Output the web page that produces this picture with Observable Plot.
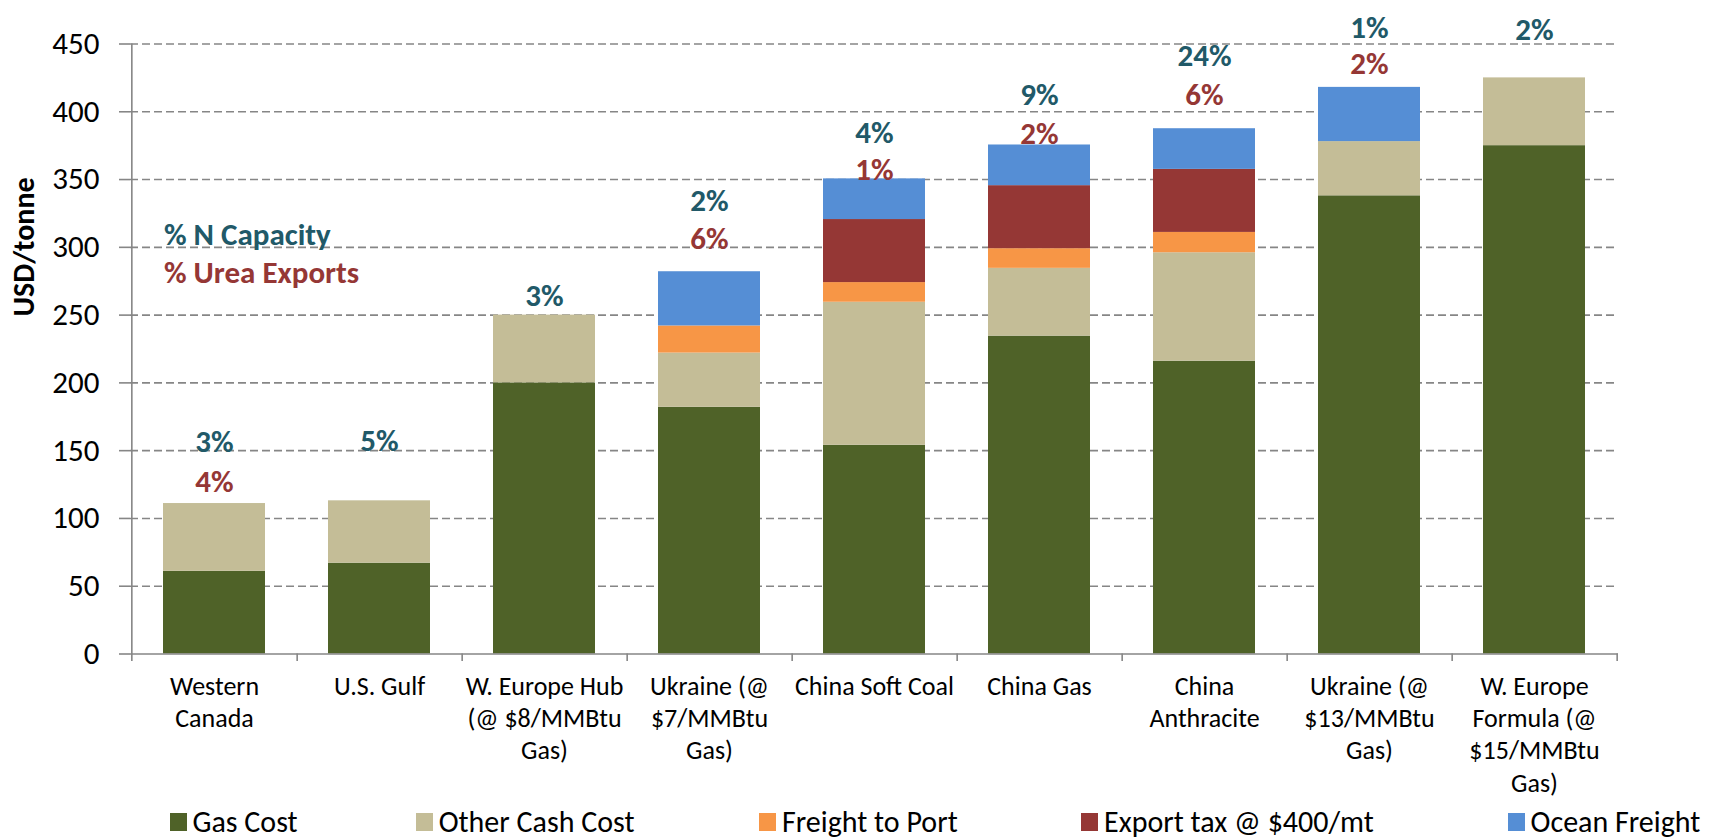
<!DOCTYPE html>
<html>
<head>
<meta charset="utf-8">
<script src="https://cdn.jsdelivr.net/npm/d3@7"></script>
<script src="https://cdn.jsdelivr.net/npm/@observablehq/plot@0.6"></script>
<style>
  html, body { margin: 0; padding: 0; background: #fff; }
  body { width: 1715px; height: 837px; overflow: hidden; font-family: Carlito, Calibri, Lato, sans-serif; }
  #legend { position: relative; height: 37px; width: 1715px; }
  .item { position: absolute; top: 6px; height: 31px; line-height: 31px; display: flex; align-items: center; font-size: 30px; color: #000; white-space: nowrap; }
  .sw { width: 17px; height: 18px; margin-right: 6px; flex: none; }
</style>
</head>
<body>
<div id="chart"></div>
<div id="legend"></div>
<script>
// ---- data ----
const categories = [
  "Western Canada", "U.S. Gulf", "W. Europe Hub (@ $8/MMBtu Gas)", "Ukraine (@ $7/MMBtu Gas)",
  "China Soft Coal", "China Gas", "China Anthracite", "Ukraine (@ $13/MMBtu Gas)",
  "W. Europe Formula (@ $15/MMBtu Gas)"
];
const tickLabels = [
  "Western\nCanada", "U.S. Gulf", "W. Europe Hub\n(@ $8/MMBtu\nGas)", "Ukraine (@\n$7/MMBtu\nGas)",
  "China Soft Coal", "China Gas", "China\nAnthracite", "Ukraine (@\n$13/MMBtu\nGas)",
  "W. Europe\nFormula (@\n$15/MMBtu\nGas)"
];
const seriesNames = ["Gas Cost", "Other Cash Cost", "Freight to Port", "Export tax @ $400/mt", "Ocean Freight"];
const seriesColors = ["#4f6228", "#c4bd97", "#f79646", "#953735", "#558ed5"];

const gasCost       = [61, 67, 200, 182, 154, 234.5, 216, 338, 375];
const otherCashCost = [50, 46, 50, 40, 105.5, 50, 80, 40, 50];
const freightToPort = [0, 0, 0, 20, 14.5, 14.5, 15, 0, 0];
const exportTax     = [0, 0, 0, 0, 46.5, 46.5, 46.5, 0, 0];
const oceanFreight  = [0, 0, 0, 40, 30, 30, 30, 40, 0];

const nCapacity   = ["3%", "5%", "3%", "2%", "4%", "9%", "24%", "1%", "2%"];
const ureaExports = ["4%", "", "", "6%", "1%", "2%", "6%", "2%", ""];
// label anchor heights (USD/tonne) as placed in the original chart
const nCapacityAt   = [156, 157, 264, 334, 384, 412, 441, 462, 460];
const ureaExportsAt = [127, null, null, 306, 357, 383.5, 412, 435, null];

const yTicks = [0, 50, 100, 150, 200, 250, 300, 350, 400, 450];

// ---- build tables ----
const seriesValues = [gasCost, otherCashCost, freightToPort, exportTax, oceanFreight];
const rows = [];
categories.forEach((c, i) => {
  seriesNames.forEach((s, j) => rows.push({category: c, series: s, value: seriesValues[j][i]}));
});
const capLabels = categories.map((c, i) => ({category: c, text: nCapacity[i], y: nCapacityAt[i]}));
const ureaLabels = categories.map((c, i) => ({category: c, text: ureaExports[i], y: ureaExportsAt[i]})).filter(d => d.text);

const W = 1715, H = 800, ML = 130, MR = 97, MT = 43.5, MB = 146.5;
const step = (W - ML - MR) / categories.length;
const teal = "#215968", red = "#953735", gray = "#868686";
const font = "Carlito, Calibri, Lato, sans-serif";

const chart = Plot.plot({
  width: W, height: H,
  marginLeft: ML, marginRight: MR, marginTop: MT, marginBottom: MB,
  style: {fontFamily: font, background: "white", overflow: "visible"},
  x: {domain: categories, paddingInner: 0.38, paddingOuter: 0.19},
  y: {domain: [0, 450]},
  color: {domain: seriesNames, range: seriesColors},
  marks: [
    Plot.gridY(yTicks.filter(d => d > 0), {stroke: gray, strokeOpacity: 1, strokeWidth: 1.6, strokeDasharray: "8,4"}),
    Plot.barY(rows, {x: "category", y: "value", fill: "series"}),
    Plot.ruleY([0], {stroke: gray, strokeWidth: 1.6}),
    Plot.ruleX([categories[0]], {x: d => d, dx: -step / 2, y1: -5.5, y2: 450, stroke: gray, strokeWidth: 1.6}),
    Plot.ruleX(categories, {x: d => d, dx: step / 2, y1: 0, y2: -5.5, stroke: gray, strokeWidth: 1.6}),
    Plot.axisY({ticks: yTicks, tickSize: 11, tickPadding: 20, stroke: gray, strokeWidth: 1.6, fill: "#000", fontSize: 31, label: null, tickFormat: d => d}),
    Plot.axisX({tickSize: 0, tickPadding: 18, fontSize: 26, lineHeight: 1.24, fill: "#000", label: null,
      tickFormat: d => tickLabels[categories.indexOf(d)]}),
    Plot.text(["USD/tonne"], {frameAnchor: "left", rotate: -90, dx: -106, dy: -32.5, fontSize: 30, fontWeight: "bold", fill: "#000"}),
    Plot.text(capLabels, {x: "category", y: "y", text: "text", fill: teal, fontSize: 31, fontWeight: "bold"}),
    Plot.text(ureaLabels, {x: "category", y: "y", text: "text", fill: red, fontSize: 31, fontWeight: "bold"}),
    Plot.text(["% N Capacity"], {x: () => categories[0], y: () => 309, dx: -50.5, textAnchor: "start", fill: teal, fontSize: 31, fontWeight: "bold"}),
    Plot.text(["% Urea Exports"], {x: () => categories[0], y: () => 281, dx: -50.5, textAnchor: "start", fill: red, fontSize: 31, fontWeight: "bold"})
  ]
});
document.getElementById("chart").appendChild(chart);

// ---- legend (HTML, below the SVG) ----
const legendX = [169.5, 415.7, 759, 1081, 1507.6];
const legend = document.getElementById("legend");
seriesNames.forEach((s, i) => {
  const it = document.createElement("div");
  it.className = "item";
  it.style.left = legendX[i] + "px";
  const sw = document.createElement("span");
  sw.className = "sw";
  sw.style.background = seriesColors[i];
  const tx = document.createElement("span");
  tx.textContent = s;
  it.appendChild(sw); it.appendChild(tx);
  legend.appendChild(it);
});
</script>
</body>
</html>
